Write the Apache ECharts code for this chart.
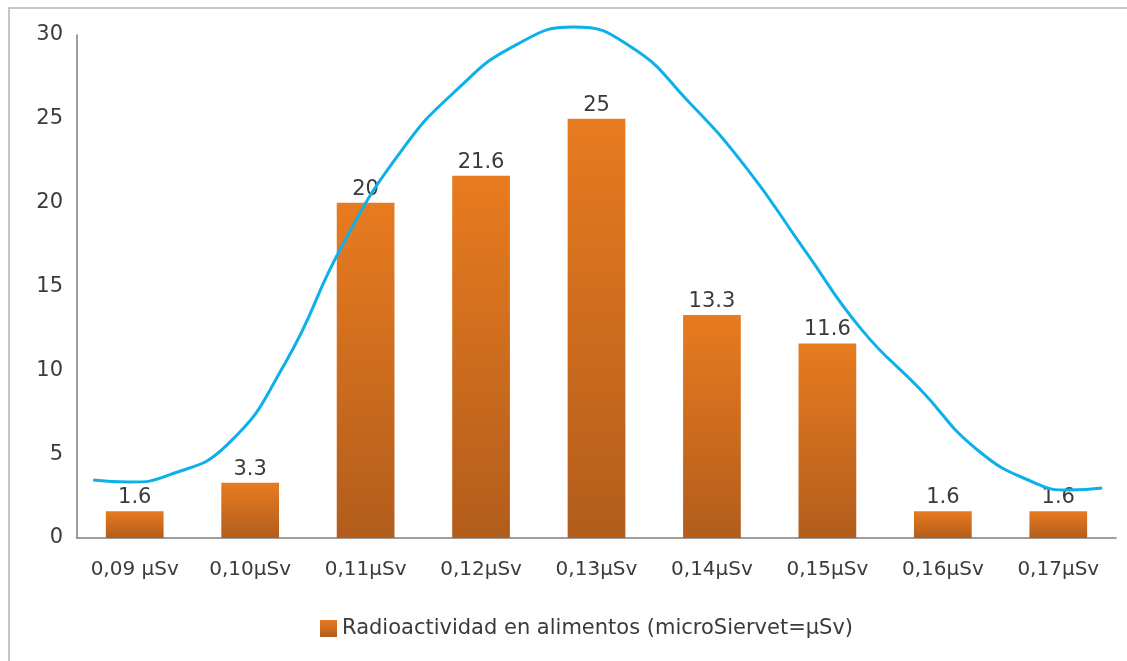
<!DOCTYPE html>
<html>
<head>
<meta charset="utf-8">
<script src="https://cdn.jsdelivr.net/npm/echarts@6/dist/echarts.min.js"></script>
<style>
html,body{margin:0;padding:0;background:#fff;}
#main{width:1127px;height:661px;}
</style>
</head>
<body>
<div id="main"></div>
<script>
//categorias del eje x
let categories = ['0,09 µSv','0,10µSv','0,11µSv','0,12µSv','0,13µSv','0,14µSv','0,15µSv','0,16µSv','0,17µSv']
//valores de las barras
let barValues = [1.6, 3.3, 20, 21.6, 25, 13.3, 11.6, 1.6, 1.6]
//curva azul: posicion (indice de categoria) y valor
let curveX = [-0.36, -0.05, 0.3, 0.8, 1.3, 1.8, 2.3, 2.8, 3.3, 3.8, 4.3, 4.8, 5.3, 5.8, 6.3, 6.8, 7.3, 7.8, 8.1, 8.38]
let curveY = [3.46, 3.34, 3.76, 5.55, 10.4, 17.47, 23.0, 26.8, 29.4, 30.47, 29.28, 26.0, 22.06, 17.2, 12.4, 8.9, 5.25, 3.28, 2.86, 2.98]
//ticks eje y
let yTicks = [0, 5, 10, 15, 20, 25, 30]

let seriesName = 'Radioactividad en alimentos (microSiervet=µSv)'
let fontName = 'DejaVu Sans'
let textColor = '#3b3b3b'

let curveData = []
curveX.forEach((x, i) => {
    curveData.push([x, curveY[i]])
})

var myChart = echarts.init(document.getElementById('main'))
let option = {
    animation: false,
    backgroundColor: '#fff',
    textStyle: {fontFamily: fontName},
    graphic: [{
        type: 'rect',
        shape: {x: 9, y: 8, width: 1200, height: 700},
        style: {fill: 'none', stroke: '#c6c6c6', lineWidth: 2},
        silent: true
    }],
    grid: {left: 77, right: 11, top: 35, bottom: 123},
    legend: {
        data: [{name: seriesName, icon: 'rect'}],
        bottom: 22,
        left: 320,
        padding: 0,
        itemWidth: 17,
        itemHeight: 17,
        itemGap: 6,
        textStyle: {fontSize: 21, color: textColor, fontFamily: fontName}
    },
    xAxis: [{
        type: 'category',
        data: categories,
        axisLine: {lineStyle: {color: '#7f7f7f', width: 1.5}},
        axisTick: {show: false},
        axisLabel: {fontSize: 20, color: textColor, margin: 22, interval: 0}
    }, {
        type: 'value',
        min: -0.5,
        max: 8.5,
        show: false
    }],
    yAxis: {
        type: 'value',
        min: yTicks[0],
        max: yTicks[yTicks.length - 1],
        interval: 5,
        splitLine: {show: false},
        axisLine: {show: true, onZero: false, lineStyle: {color: '#7f7f7f', width: 1.5}},
        axisTick: {show: false},
        axisLabel: {fontSize: 21, color: textColor, margin: 14}
    },
    series: [{
        name: seriesName,
        type: 'bar',
        data: barValues,
        barWidth: '50%',
        itemStyle: {
            color: new echarts.graphic.LinearGradient(0, 0, 0, 1, [
                {offset: 0, color: '#e87b20'},
                {offset: 1, color: '#b25d1c'}
            ])
        },
        label: {
            show: true,
            position: 'top',
            distance: 3,
            fontSize: 21,
            color: textColor
        }
    }, {
        name: 'curva',
        type: 'line',
        xAxisIndex: 1,
        data: curveData,
        smooth: 0.5,
        showSymbol: false,
        clip: false,
        lineStyle: {color: '#0eb0ea', width: 3}
    }]
}
myChart.setOption(option)
</script>
</body>
</html>
